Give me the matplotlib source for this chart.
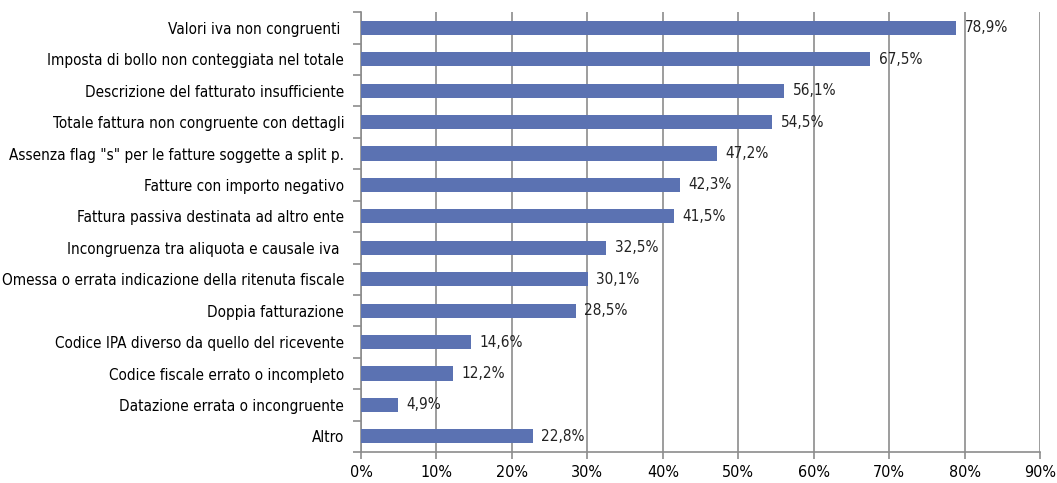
import matplotlib

matplotlib.use("Agg")
import matplotlib.pyplot as plt
import numpy as np
from matplotlib.ticker import FixedLocator

plt.rcParams["font.family"] = ["DejaVu Sans"]
plt.rcParams["font.stretch"] = "condensed"

categories = [
    "Valori iva non congruenti ",
    "Imposta di bollo non conteggiata nel totale",
    "Descrizione del fatturato insufficiente",
    "Totale fattura non congruente con dettagli",
    'Assenza flag "s" per le fatture soggette a split p.',
    "Fatture con importo negativo",
    "Fattura passiva destinata ad altro ente",
    "Incongruenza tra aliquota e causale iva ",
    "Omessa o errata indicazione della ritenuta fiscale",
    "Doppia fatturazione",
    "Codice IPA diverso da quello del ricevente",
    "Codice fiscale errato o incompleto",
    "Datazione errata o incongruente",
    "Altro",
]
values = [78.9, 67.5, 56.1, 54.5, 47.2, 42.3, 41.5, 32.5, 30.1, 28.5, 14.6, 12.2, 4.9, 22.8]
xticks = [0, 10, 20, 30, 40, 50, 60, 70, 80, 90]

BAR = "#5b72b2"
GRID = "#8c8c8c"
FS = 11

fig = plt.figure(figsize=(10.57, 4.83), dpi=100)
ax = fig.add_axes([0.3415, 0.064, 0.6425, 0.911])

y = np.arange(len(categories))
ax.barh(y, values, height=0.45, color=BAR, zorder=3)
for yi, v in zip(y, values):
    ax.text(v + 1.1, yi, f"{v:.1f}%".replace(".", ","), va="center", ha="left",
            fontsize=FS, color="#222222")

ax.set_xlim(0, 90)
ax.set_ylim(len(categories) - 0.5, -0.5)
ax.set_xticks(xticks)
ax.set_xticklabels([f"{t}%" for t in xticks], fontsize=FS + 0.5)
ax.set_yticks(y)
ax.set_yticklabels(categories, fontsize=FS)
ax.yaxis.set_minor_locator(FixedLocator(np.arange(-0.5, len(categories), 1.0)))

ax.grid(axis="x", color=GRID, linewidth=1.2, zorder=0)
ax.tick_params(axis="y", which="major", length=0, pad=12)
ax.tick_params(axis="y", which="minor", length=6, color=GRID, width=1.2)
ax.tick_params(axis="x", length=5, color=GRID, width=1.2, pad=4)
for s in ("top", "right"):
    ax.spines[s].set_visible(False)
for s in ("left", "bottom"):
    ax.spines[s].set_color(GRID)
    ax.spines[s].set_linewidth(1.2)

fig.savefig("out.png", dpi=100, facecolor="white")
